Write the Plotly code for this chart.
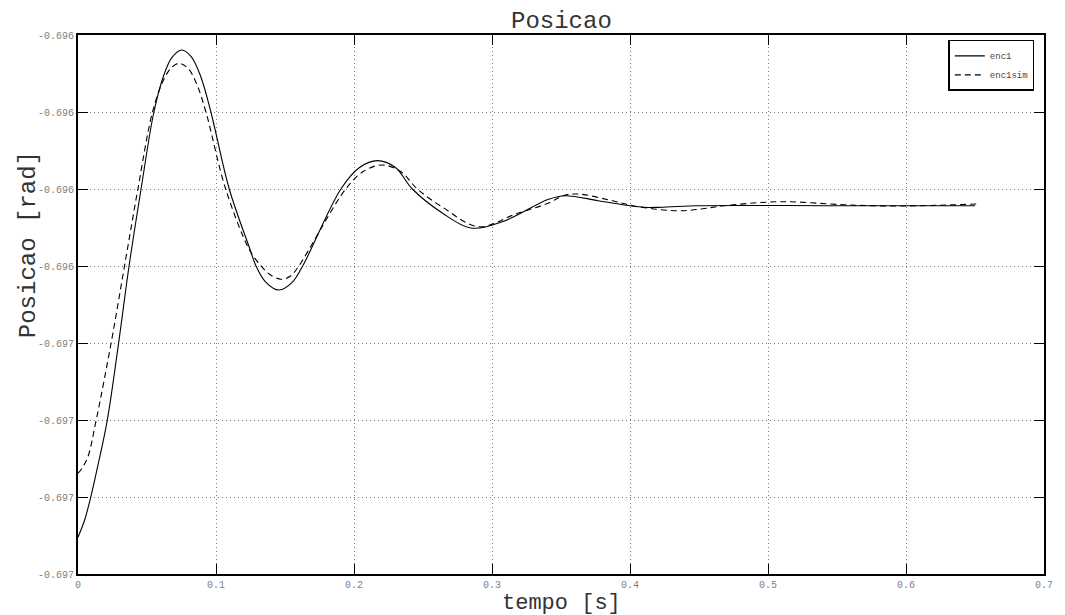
import plotly.graph_objects as go

# Encoder 1 measured position
t_enc1 = [0.0, 0.0048, 0.0092, 0.0145, 0.0212, 0.0294, 0.037, 0.0457, 0.055, 0.062,
          0.068, 0.0751, 0.082, 0.089, 0.0963, 0.1096, 0.1243, 0.129, 0.136, 0.1457,
          0.155, 0.1628, 0.1905, 0.204, 0.217, 0.230, 0.2423, 0.264, 0.2845, 0.307,
          0.341, 0.353, 0.377, 0.401, 0.41, 0.42, 0.447, 0.55, 0.65]
pos_enc1 = [-0.6967523, -0.6967299, -0.6967004, -0.6966584, -0.6966004, -0.6965004,
            -0.6964000, -0.6963000, -0.6962000, -0.6961532, -0.6961295, -0.6961195,
            -0.6961281, -0.6961542, -0.6962000, -0.6963000, -0.6963766, -0.6964000,
            -0.6964208, -0.6964312, -0.6964216, -0.6964000, -0.6963000, -0.6962721,
            -0.6962632, -0.6962721, -0.6963000, -0.6963312, -0.6963506, -0.6963429,
            -0.6963134, -0.6963087, -0.6963152, -0.6963221, -0.6963238, -0.6963238,
            -0.6963217, -0.6963217, -0.6963217]

# Encoder 1 simulated position
t_enc1sim = [0.0, 0.003, 0.0072, 0.0132, 0.024, 0.0337, 0.0434, 0.054, 0.062, 0.068,
             0.0735, 0.080, 0.086, 0.0927, 0.107, 0.1243, 0.1327, 0.139, 0.1472, 0.154,
             0.160, 0.194, 0.207, 0.2206, 0.234, 0.2459, 0.264, 0.2905, 0.317, 0.341,
             0.352, 0.3627, 0.385, 0.406, 0.4374, 0.471, 0.5096, 0.555, 0.5915, 0.6517]
pos_enc1sim = [-0.6966692, -0.6966623, -0.6966477, -0.6966000, -0.6965000, -0.6964000,
               -0.6963000, -0.6962000, -0.6961584, -0.6961418, -0.6961368, -0.6961440,
               -0.6961636, -0.6962000, -0.6963000, -0.6963792, -0.6964000, -0.6964110,
               -0.6964173, -0.6964130, -0.6964000, -0.6963000, -0.6962770, -0.6962688,
               -0.6962775, -0.6963000, -0.6963234, -0.6963490, -0.6963325, -0.6963182,
               -0.6963084, -0.6963065, -0.6963143, -0.6963230, -0.6963282, -0.6963212,
               -0.6963165, -0.6963204, -0.6963221, -0.6963195]

x_ticks = [0.0, 0.1, 0.2, 0.3, 0.4, 0.5, 0.6, 0.7]
x_ticktext = ["0", "0.1", "0.2", "0.3", "0.4", "0.5", "0.6", "0.7"]
y_ticks = [-0.6968, -0.6967, -0.6966, -0.6965, -0.6964, -0.6963, -0.6962, -0.6961]
y_ticktext = ["-0.697", "-0.697", "-0.697", "-0.697", "-0.696", "-0.696", "-0.696", "-0.696"]

MONO = "Liberation Mono, Courier New, monospace"

fig = go.Figure()
fig.add_trace(go.Scatter(
    x=t_enc1, y=pos_enc1, mode="lines", name="enc1",
    line=dict(color="black", width=1.1, shape="spline", smoothing=1.0),
))
fig.add_trace(go.Scatter(
    x=t_enc1sim, y=pos_enc1sim, mode="lines", name="enc1sim",
    line=dict(color="black", width=1.1, dash="6px,4px", shape="spline", smoothing=1.0),
))

axis_common = dict(
    showline=True, linecolor="black", linewidth=2, mirror="ticks",
    ticks="inside", ticklen=10, tickwidth=1, tickcolor="black",
    showgrid=True, gridcolor="#7a7a7a", gridwidth=1, griddash="1px,3px",
    zeroline=False,
    tickfont=dict(family=MONO, size=10, color="#808080"),
)

fig.update_layout(
    width=1065, height=615,
    margin=dict(l=78, r=18, t=35, b=41),
    paper_bgcolor="white", plot_bgcolor="white",
    showlegend=True,
    legend=dict(
        x=0.99, y=0.991, xanchor="right", yanchor="top",
        bgcolor="white", bordercolor="black", borderwidth=1.5,
        font=dict(family=MONO, size=9, color="#444444"),
        tracegroupgap=0, itemwidth=30,
    ),
    xaxis=dict(range=[0, 0.7], tickvals=x_ticks, ticktext=x_ticktext, **axis_common),
    yaxis=dict(range=[-0.6968, -0.6961], tickvals=y_ticks, ticktext=y_ticktext, **axis_common),
    annotations=[
        dict(text="Posicao", xref="paper", yref="paper", x=0.5, y=1.0,
             xanchor="center", yanchor="bottom", yshift=-2, showarrow=False,
             font=dict(family=MONO, size=24, color="#333333")),
        dict(text="tempo [s]", xref="paper", yref="paper", x=0.5, y=0.0,
             xanchor="center", yanchor="middle", yshift=-29, showarrow=False,
             font=dict(family=MONO, size=22, color="#333333")),
        dict(text="Posicao [rad]", xref="paper", yref="paper", x=0.0, y=0.61,
             xanchor="center", yanchor="middle", xshift=-50, textangle=-90, showarrow=False,
             font=dict(family=MONO, size=24, color="#333333")),
    ],
)

fig.write_html("out.html")
